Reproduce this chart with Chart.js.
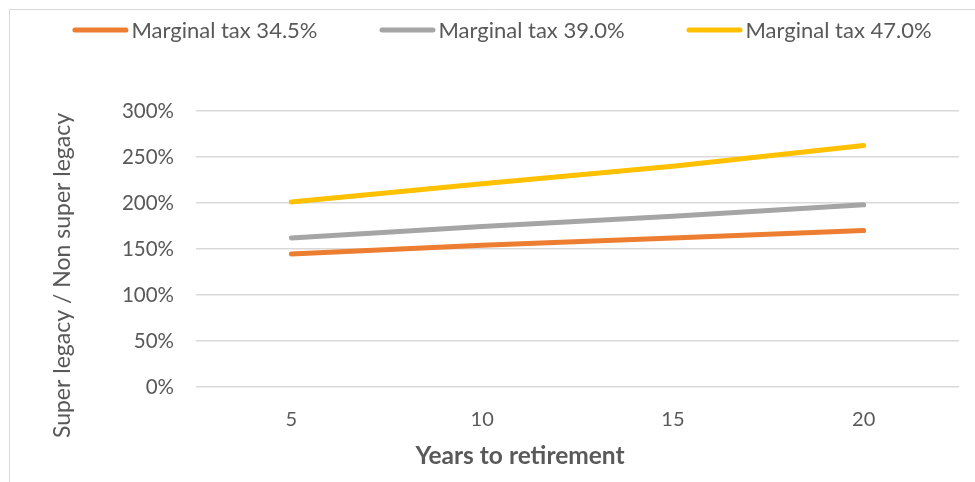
<!DOCTYPE html>
<html>
<head>
<meta charset="utf-8">
<script src="https://cdn.jsdelivr.net/npm/chart.js@4"></script>
<style>
  html, body { margin: 0; padding: 0; background: #fff; }
  #wrap { width: 975px; height: 482px; position: relative; }
</style>
</head>
<body>
<div id="wrap"><canvas id="chart" width="975" height="482"></canvas></div>
<script>
// data
const years = ['5', '10', '15', '20'];
const tax345 = [144.5, 154, 162, 170];
const tax390 = [162, 174.5, 185.5, 198];
const tax470 = [201, 221, 240, 262.5];
const seriesLabels = ['Marginal tax 34.5%', 'Marginal tax 39.0%', 'Marginal tax 47.0%'];
const seriesColors = ['#ED7D31', '#A5A5A5', '#FFC000'];
const yTitle = 'Super legacy / Non super legacy';
const xTitle = 'Years to retirement';

const FONT = 'Lato, "Open Sans", sans-serif';
const TEXT = '#595959';

// frame, legend and axis titles (offset like the Excel original)
const decorations = {
  id: 'decorations',
  beforeDraw(chart) {
    const ctx = chart.ctx;
    ctx.save();
    ctx.strokeStyle = '#D9D9D9';
    ctx.lineWidth = 1;
    ctx.beginPath();
    ctx.moveTo(9.5, 482);
    ctx.lineTo(9.5, 9.5);
    ctx.lineTo(975, 9.5);
    ctx.stroke();
    ctx.restore();
  },
  afterDraw(chart) {
    const ctx = chart.ctx;
    ctx.save();
    ctx.font = '22px ' + FONT;
    ctx.textBaseline = 'middle';
    const sample = 56, gapText = 3, gapItem = 62;
    const items = chart.data.datasets.map(ds => ({
      label: ds.label, color: ds.borderColor,
      w: sample + gapText + ctx.measureText(ds.label).width
    }));
    const total = items.reduce((s, it) => s + it.w, 0) + gapItem * (items.length - 1);
    let x = 502 - total / 2;
    const y = 30;
    items.forEach(it => {
      ctx.strokeStyle = it.color;
      ctx.lineWidth = 5;
      ctx.lineCap = 'round';
      ctx.beginPath();
      ctx.moveTo(x + 2.5, y);
      ctx.lineTo(x + sample - 2.5, y);
      ctx.stroke();
      ctx.fillStyle = TEXT;
      ctx.textAlign = 'left';
      ctx.fillText(it.label, x + sample + gapText, y + 1);
      x += it.w + gapItem;
    });

    ctx.fillStyle = TEXT;
    ctx.textAlign = 'center';
    ctx.font = 'bold 24.5px ' + FONT;
    ctx.fillText(xTitle, 520, 456);

    ctx.translate(63, 275.5);
    ctx.rotate(-Math.PI / 2);
    ctx.font = '23px ' + FONT;
    ctx.fillText(yTitle, 0, 0);
    ctx.restore();
  }
};

const ctx = document.getElementById('chart').getContext('2d');
new Chart(ctx, {
  type: 'line',
  data: {
    labels: years,
    datasets: [tax345, tax390, tax470].map((d, i) => ({
      label: seriesLabels[i],
      data: d,
      borderColor: seriesColors[i],
      backgroundColor: seriesColors[i],
      borderWidth: 5,
      borderCapStyle: 'round',
      pointRadius: 0,
      tension: 0,
      fill: false
    }))
  },
  options: {
    responsive: false,
    animation: false,
    layout: { padding: { top: 111, right: 16, bottom: 0, left: 0 } },
    plugins: {
      legend: { display: false },
      tooltip: { enabled: false }
    },
    scales: {
      x: {
        type: 'category',
        offset: true,
        grid: { display: false },
        border: { display: false },
        ticks: { color: TEXT, font: { family: FONT, size: 20 }, padding: 13 },
        afterFit(scale) { scale.height = 95; }
      },
      y: {
        min: 0,
        max: 300,
        ticks: {
          stepSize: 50,
          color: TEXT,
          font: { family: FONT, size: 20.5 },
          padding: 22,
          callback: v => v + '%'
        },
        grid: { color: '#D9D9D9', lineWidth: 1.5, drawTicks: false },
        border: { display: false },
        afterFit(scale) { scale.width = 196; }
      }
    }
  },
  plugins: [decorations]
});
</script>
</body>
</html>
